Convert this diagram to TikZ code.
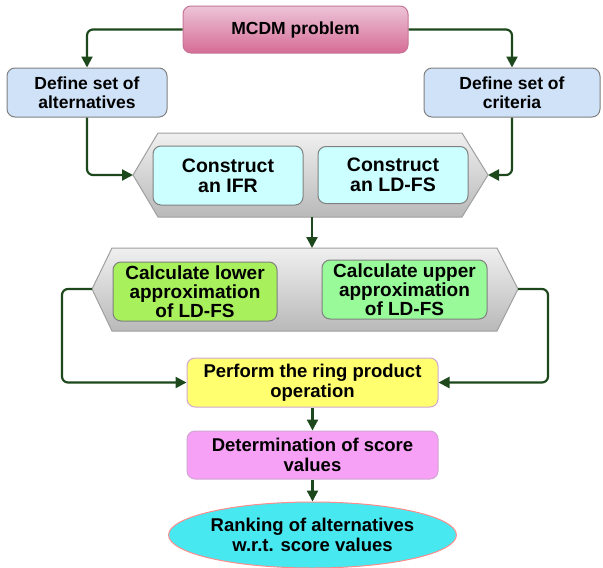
\documentclass[tikz,border=0pt]{standalone}
\usepackage{fontspec}
\setmainfont{Liberation Sans}
\usetikzlibrary{arrows.meta,shapes.geometric}

\definecolor{flowgreen}{RGB}{28,72,28}
\definecolor{pinktop}{RGB}{236,196,216}
\definecolor{pinkbot}{RGB}{214,108,150}
\definecolor{pinkline}{RGB}{196,118,150}
\definecolor{lightblue}{RGB}{207,226,248}
\definecolor{paleaqua}{RGB}{204,255,255}
\definecolor{limegreen}{RGB}{168,240,92}
\definecolor{mintgreen}{RGB}{152,250,152}
\definecolor{ringyellow}{RGB}{255,255,112}
\definecolor{violetpink}{RGB}{246,160,246}
\definecolor{rankcyan}{RGB}{72,232,240}

\begin{document}
\begin{tikzpicture}[x=1pt, y=-1pt,
    font=\fontsize{18.5}{19.5}\selectfont\bfseries,
    box/.style={draw=gray, line width=1pt, rounded corners=8pt, align=center, inner sep=0pt},
    flow/.style={-{Triangle[width=11pt,length=11pt]}, draw=flowgreen, line width=2.2pt, rounded corners=6pt},
    hexshade/.style={draw=gray!75, top color=gray!12, bottom color=gray!55, line width=1pt}]

    \useasboundingbox (0,0) rectangle (603,568);

    % 1. Top row: problem and the two definition boxes
    \node[box, draw=pinkline, top color=pinktop, bottom color=pinkbot,
          minimum width=225pt, minimum height=47pt, font=\fontsize{17.5}{19.5}\selectfont\bfseries]
        (mcdm) at (295.5,29.5) {MCDM problem};
    \node[box, fill=lightblue, minimum width=160pt, minimum height=49pt,
          font=\fontsize{17.5}{19.5}\selectfont\bfseries]
        (alt) at (87,92.5) {Define set of\\alternatives};
    \node[box, fill=lightblue, minimum width=176pt, minimum height=49pt,
          font=\fontsize{17.5}{19.5}\selectfont\bfseries]
        (crit) at (512,92.5) {Define set of\\criteria};

    % 2. First hexagon band
    \shadedraw[hexshade] (158,133) -- (462,133) -- (488,175) -- (462,217)
        -- (158,217) -- (133,175) -- cycle;
    \coordinate (hexAw) at (133,175);
    \coordinate (hexAe) at (488,175);
    \coordinate (hexAs) at (312,217);

    \node[box, fill=paleaqua, minimum width=150pt, minimum height=59pt,
          font=\fontsize{19.5}{20}\selectfont\bfseries]
        (ifr) at (228,175.5) {Construct\\an IFR};
    \node[box, fill=paleaqua, minimum width=150pt, minimum height=57pt,
          font=\fontsize{19.5}{20}\selectfont\bfseries]
        (ldfs) at (393,175) {Construct\\an LD-FS};

    % 3. Second hexagon band
    \shadedraw[hexshade] (112,248) -- (497,248) -- (518,289) -- (497,331)
        -- (112,331) -- (92,289) -- cycle;
    \coordinate (hexBn) at (312,248);
    \coordinate (hexBw) at (92,289);
    \coordinate (hexBe) at (518,289);

    \node[box, fill=limegreen, minimum width=164pt, minimum height=59pt,
          font=\fontsize{19}{19}\selectfont\bfseries]
        (lower) at (195,291.5) {Calculate lower\\approximation\\of LD-FS};
    \node[box, fill=mintgreen, minimum width=165pt, minimum height=59pt,
          font=\fontsize{19}{19}\selectfont\bfseries]
        (upper) at (404.5,289.5) {Calculate upper\\approximation\\of LD-FS};

    % 4. Lower chain
    \node[box, draw=violet!35, fill=ringyellow, minimum width=251pt, minimum height=49pt]
        (ring) at (312.5,382.5) {Perform the ring product\\operation};
    \node[box, draw=violet!35, fill=violetpink, minimum width=251pt, minimum height=48pt]
        (det) at (312.5,455) {Determination of score\\values};
    \node[ellipse, draw=red!45, line width=1pt, fill=rankcyan, align=center, inner sep=0pt,
          minimum width=255pt, minimum height=66pt]
        (rank) at (312.5,535) {Ranking of alternatives\\w.r.t. score values};

    % 5. Connectors
    \draw[flow] (mcdm.west) -| (alt.north);
    \draw[flow] (mcdm.east) -| (crit.north);
    \draw[flow] (alt.south) |- (hexAw);
    \draw[flow] (crit.south) |- (hexAe);
    \draw[flow] (hexAs) -- (hexBn);
    \draw[flow] (hexBw) -- ++(-30,0) |- (ring.west);
    \draw[flow] (hexBe) -- ++(30,0) |- (ring.east);
    \draw[flow] (ring) -- (det);
    \draw[flow] (det) -- (rank);

\end{tikzpicture}
\end{document}
